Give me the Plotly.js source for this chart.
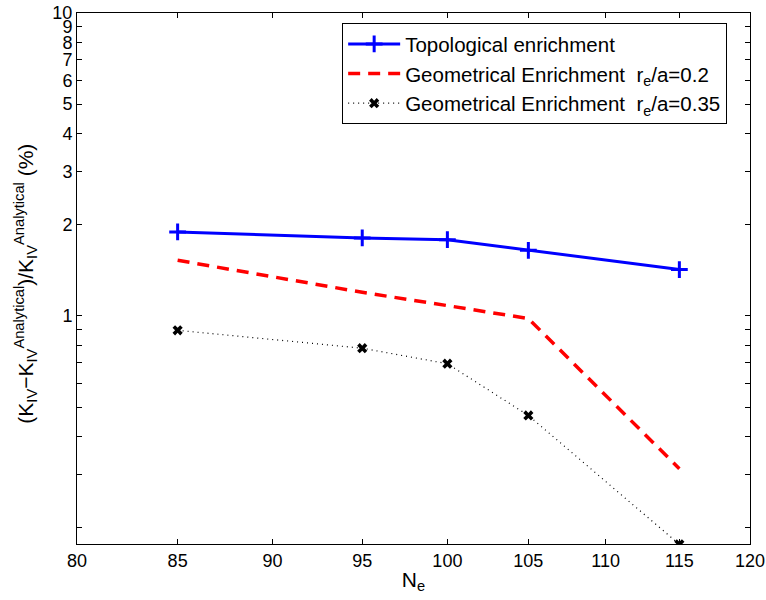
<!DOCTYPE html>
<html>
<head>
<meta charset="utf-8">
<script src="https://cdn.plot.ly/plotly-3.0.1.min.js"></script>
<style>html,body{margin:0;padding:0;background:#fff;}#chart{width:766px;height:600px;}</style>
</head>
<body>
<div id="chart"></div>
<script>
const Ne = [85, 95, 100, 105, 115];
const topological = [1.893, 1.809, 1.785, 1.646, 1.422];
const geom02 = [1.526, 1.196, 1.081, 0.980, 0.313];
const geom035 = [0.896, 0.782, 0.695, 0.469, 0.176];
const xTicks = [80, 85, 90, 95, 100, 105, 110, 115, 120];
const yTickVals = [0.2, 0.3, 0.4, 0.5, 0.6, 0.7, 0.8, 0.9, 1, 2, 3, 4, 5, 6, 7, 8, 9, 10];
const yTickText = ['', '', '', '', '', '', '', '', '1', '2', '3', '4', '5', '6', '7', '8', '9', '10'];
const names = [
  'Topological enrichment',
  'Geometrical Enrichment  r<sub>e</sub>/a=0.2',
  'Geometrical Enrichment  r<sub>e</sub>/a=0.35'
];
const yTitle = '(K<sub>IV</sub>−K<sub>IV</sub><sup>Analytical</sup>)/K<sub>IV</sub><sup>Analytical</sup> (%)';

const font = 'Liberation Sans, Arial, sans-serif';

const traces = [
  {x: Ne, y: topological, name: names[0], mode: 'lines+markers',
   line: {color: '#0000ff', width: 3},
   marker: {symbol: 'cross-thin', size: 12, color: '#0000ff', line: {color: '#0000ff', width: 3}}},
  {x: Ne, y: geom02, name: names[1], mode: 'lines',
   line: {color: '#ff0000', width: 3.5, dash: '12px,8px'}},
  {x: Ne, y: geom035, name: names[2], mode: 'lines+markers',
   line: {color: '#000000', width: 1.2, dash: '1px,4px'},
   marker: {symbol: 'x', size: 9, color: '#000000'}}
];

const axisCommon = {
  showline: true, linecolor: '#000', linewidth: 1, mirror: 'allticks',
  ticks: 'inside', ticklen: 5, tickcolor: '#000', showgrid: false, zeroline: false,
  tickfont: {family: font, size: 18, color: '#000'}
};

const layout = {
  width: 766, height: 600,
  margin: {l: 77, r: 16, t: 13, b: 56},
  paper_bgcolor: '#fff', plot_bgcolor: '#fff',
  showlegend: true,
  legend: {
    x: 0.394, y: 0.981, xanchor: 'left', yanchor: 'top',
    bgcolor: '#fff', bordercolor: '#000', borderwidth: 1,
    font: {family: font, size: 20.5, color: '#000'},
    itemwidth: 52,
    tracegroupgap: 0
  },
  xaxis: Object.assign({}, axisCommon, {
    type: 'log', range: [Math.log10(80), Math.log10(120)],
    tickmode: 'array', tickvals: xTicks, ticktext: xTicks.map(String),
    title: {text: 'N<sub>e</sub>', font: {family: font, size: 21, color: '#000'}, standoff: 2}
  }),
  yaxis: Object.assign({}, axisCommon, {
    type: 'log', range: [Math.log10(0.1765), 1],
    tickmode: 'array', tickvals: yTickVals, ticktext: yTickText
  }),
  annotations: [{
    xref: 'paper', yref: 'paper', x: -0.076, y: 0.49,
    xanchor: 'center', yanchor: 'middle', textangle: -90, showarrow: false,
    text: yTitle, font: {family: font, size: 21, color: '#000'}
  }]
};

Plotly.newPlot('chart', traces, layout, {displayModeBar: false, staticPlot: true});
</script>
</body>
</html>
